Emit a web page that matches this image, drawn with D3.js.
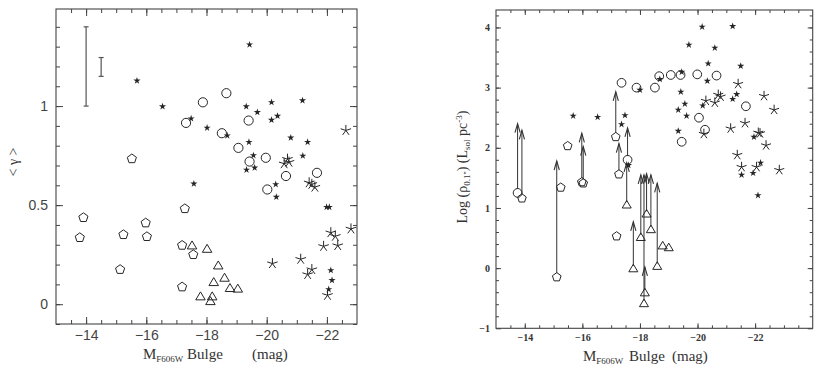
<!DOCTYPE html>
<html>
<head>
<meta charset="utf-8">
<script src="https://d3js.org/d3.v7.min.js"></script>
<style>
  body { margin: 0; background: #ffffff; }
  svg { display: block; }
  .ttl { font-family: "Liberation Serif", serif; fill: #333; }
  .lt text { font-family: "Liberation Sans", sans-serif; font-size: 14px; fill: #444; }
  .rt text { font-family: "Liberation Serif", serif; font-size: 10px; font-weight: bold; fill: #333; }
  .tick line { stroke: #444; }
</style>
</head>
<body>
<div id="chart"></div>
<script>
// ---- left panel: <gamma> vs bulge magnitude ----
const leftCircles = [[-17.32,0.915],[-17.88,1.019],[-18.66,1.065],[-19.4,0.927],[-18.51,0.863],[-19.06,0.789],
  [-19.97,0.739],[-19.43,0.72],[-20.64,0.647],[-21.67,0.663],[-20.02,0.579]];
const leftPentagons = [[-13.91,0.437],[-13.79,0.336],[-15.24,0.351],[-15.13,0.175],[-15.98,0.41],[-16.02,0.341],
  [-15.52,0.734],[-17.28,0.482],[-17.19,0.297],[-17.56,0.25],[-17.19,0.087]];
const leftTriangles = [[-17.52,0.289],[-18.02,0.272],[-18.39,0.188],[-18.6,0.126],[-18.24,0.104],[-18.78,0.074],
  [-19.04,0.071],[-17.8,0.032],[-18.19,0.032],[-18.13,0.008]];
const leftStarsSmall = [[-15.69,1.128],[-16.54,0.998],[-17.49,0.937],[-19.43,1.31],[-18.02,0.89],[-19.32,0.998],
  [-19.69,0.969],[-20.16,1.019],[-21.19,1.028],[-20.16,0.93],[-20.36,0.95],[-18.69,0.851],[-19.41,0.818],
  [-20.8,0.84],[-21.36,0.818],[-21.2,0.749],[-19.56,0.751],[-19.33,0.678],[-19.6,0.689],[-17.58,0.608],
  [-20.3,0.605],[-20.32,0.541],[-21.99,0.49],[-22.08,0.49],[-22.13,0.171],[-22.17,0.121],[-22.06,0.075]];
const leftStarsLarge = [[-22.63,0.877],[-20.69,0.732],[-20.58,0.709],[-20.74,0.717],[-21.41,0.613],[-21.5,0.605],
  [-21.6,0.591],[-22.13,0.361],[-22.28,0.343],[-22.8,0.38],[-21.89,0.292],[-22.36,0.296],[-20.19,0.205],
  [-21.13,0.227],[-21.5,0.175],[-21.36,0.15],[-22.02,0.045]];
const leftErrorBars = [[-14, 1.0, 1.4], [-14.5, 1.15, 1.245]];

// ---- right panel: log central density vs bulge magnitude ----
const rightCircles = [[-13.75,1.25],[-17.36,3.08],[-17.88,3.0],[-18.52,3.0],[-18.67,3.19],[-19.07,3.21],[-19.41,3.21],
  [-19.99,3.22],[-20.66,3.2],[-21.68,2.69],[-20.05,2.5],[-20.26,2.3],[-19.45,2.1],[-17.57,1.8]];
const rightPentagons = [[-13.9,1.16],[-15.11,-0.15],[-15.25,1.34],[-15.49,2.03],[-15.98,1.43],[-16.03,1.41],
  [-17.19,0.53],[-17.27,1.56],[-17.16,2.18]];
const rightTriangles = [[-17.54,1.03],[-17.77,-0.03],[-18.03,0.49],[-18.23,0.88],[-18.38,0.62],[-18.6,0.01],
  [-18.14,-0.61],[-18.17,-0.43],[-18.79,0.35],[-19.0,0.32]];
const rightStarsSmall = [[-15.68,2.53],[-16.53,2.51],[-17.48,2.54],[-17.36,2.39],[-17.6,1.71],[-18.0,2.96],
  [-20.16,4.01],[-21.22,4.02],[-19.7,3.71],[-20.6,3.66],[-20.37,3.4],[-21.5,3.36],[-19.45,3.26],[-18.69,3.14],
  [-20.34,3.11],[-19.42,2.93],[-19.56,2.73],[-19.33,2.63],[-19.62,2.53],[-20.18,2.7],[-21.22,2.81],[-21.36,2.89],
  [-19.33,2.28],[-21.96,2.18],[-21.53,1.55],[-21.93,1.58],[-22.19,1.75],[-22.1,1.21]];
const rightStarsLarge = [[-21.41,3.06],[-20.29,2.78],[-20.6,2.75],[-20.72,2.88],[-20.8,2.85],[-22.31,2.86],
  [-22.66,2.63],[-21.65,2.41],[-21.15,2.32],[-20.22,2.23],[-22.11,2.25],[-22.17,2.24],[-22.38,2.04],
  [-21.38,1.88],[-21.53,1.68],[-22.05,1.68],[-22.84,1.63]];
// lower limits: [mag, from, to]
const rightArrows = [[-13.75,1.25,2.4],[-13.9,1.16,2.29],[-15.11,-0.15,1.78],[-15.98,1.43,2.24],[-16.03,1.41,2.02],
  [-17.16,2.18,2.93],[-17.27,1.56,2.07],[-17.57,1.8,2.33],[-17.54,1.03,1.75],[-17.77,-0.03,0.77],
  [-18.03,0.49,1.55],[-18.14,-0.61,1.55],[-18.17,-0.43,0.02],[-18.23,0.88,1.57],[-18.38,0.62,1.55],[-18.6,0.01,1.41]];

const leftTicksX = [-14, -16, -18, -20, -22];
const leftTicksY = [0, 0.5, 1];
const rightTicksX = [-14, -16, -18, -20, -22];
const rightTicksY = [-1, 0, 1, 2, 3, 4];

const svg = d3.select("#chart").append("svg")
  .attr("width", 823)
  .attr("height", 367);

const ink = "#262626";

// symbol helpers
const pentagon = (r) => {
  let p = [];
  for (let i = 0; i < 5; i++) {
    const a = -Math.PI / 2 + i * 2 * Math.PI / 5;
    p.push([r * Math.cos(a), r * Math.sin(a)]);
  }
  return "M" + p.map(q => q.join(",")).join("L") + "Z";
};
const triangle = (r) => {
  return `M0,${-r}L${r * 0.95},${r * 0.6}L${-r * 0.95},${r * 0.6}Z`;
};
const asterisk = (r) => {
  let s = "";
  for (let i = 0; i < 5; i++) {
    const a = -Math.PI / 2 + i * 2 * Math.PI / 5;
    s += `M0,0L${r * Math.cos(a)},${r * Math.sin(a)}`;
  }
  return s;
};
const smallStar = d3.symbol().type(d3.symbolStar).size(16)();

function drawPanel(g, x, y, sets, sizeScale) {
  const k = sizeScale;
  g.selectAll(null).data(sets.circles).join("circle")
    .attr("cx", d => x(d[0])).attr("cy", d => y(d[1])).attr("r", 4.6 * k)
    .attr("fill", "none").attr("stroke", ink).attr("stroke-width", 1);
  g.selectAll(null).data(sets.pentagons).join("path")
    .attr("d", pentagon(4.8 * k))
    .attr("transform", d => `translate(${x(d[0])},${y(d[1])})`)
    .attr("fill", "none").attr("stroke", ink).attr("stroke-width", 1);
  g.selectAll(null).data(sets.triangles).join("path")
    .attr("d", triangle(5 * k))
    .attr("transform", d => `translate(${x(d[0])},${y(d[1]) - 1})`)
    .attr("fill", "none").attr("stroke", ink).attr("stroke-width", 1);
  g.selectAll(null).data(sets.starsSmall).join("path")
    .attr("d", smallStar)
    .attr("transform", d => `translate(${x(d[0])},${y(d[1])})`)
    .attr("fill", ink);
  g.selectAll(null).data(sets.starsLarge).join("path")
    .attr("d", asterisk(5.5 * k))
    .attr("transform", d => `translate(${x(d[0])},${y(d[1])})`)
    .attr("fill", "none").attr("stroke", ink).attr("stroke-width", 1);
}

function frame(g, x, y, majX, minX, majY, minY, majLen, minLen, cls, padX, padY, fmtY) {
  const [x0, x1] = x.range();
  const [y0, y1] = y.range();
  // minor ticks all four sides
  g.append("g").attr("transform", `translate(0,${y0})`)
    .call(d3.axisBottom(x).tickValues(minX).tickSize(-minLen).tickFormat("").tickSizeOuter(0))
    .call(a => a.select(".domain").remove());
  g.append("g").attr("transform", `translate(0,${y1})`)
    .call(d3.axisTop(x).tickValues(minX).tickSize(-minLen).tickFormat("").tickSizeOuter(0))
    .call(a => a.select(".domain").remove());
  g.append("g").attr("transform", `translate(${x0},0)`)
    .call(d3.axisLeft(y).tickValues(minY).tickSize(-minLen).tickFormat("").tickSizeOuter(0))
    .call(a => a.select(".domain").remove());
  g.append("g").attr("transform", `translate(${x1},0)`)
    .call(d3.axisRight(y).tickValues(minY).tickSize(-minLen).tickFormat("").tickSizeOuter(0))
    .call(a => a.select(".domain").remove());
  // major ticks with labels
  g.append("g").attr("class", cls).attr("transform", `translate(0,${y0})`)
    .call(d3.axisBottom(x).tickValues(majX).tickSize(-majLen).tickPadding(padX).tickFormat(d3.format("d")).tickSizeOuter(0))
    .call(a => a.select(".domain").remove());
  g.append("g").attr("transform", `translate(0,${y1})`)
    .call(d3.axisTop(x).tickValues(majX).tickSize(-majLen).tickFormat("").tickSizeOuter(0))
    .call(a => a.select(".domain").remove());
  g.append("g").attr("class", cls).attr("transform", `translate(${x0},0)`)
    .call(d3.axisLeft(y).tickValues(majY).tickSize(-majLen).tickPadding(padY).tickFormat(fmtY).tickSizeOuter(0))
    .call(a => a.select(".domain").remove());
  g.append("g").attr("transform", `translate(${x1},0)`)
    .call(d3.axisRight(y).tickValues(majY).tickSize(-majLen).tickFormat("").tickSizeOuter(0))
    .call(a => a.select(".domain").remove());
  g.append("rect")
    .attr("x", x0).attr("y", y1).attr("width", x1 - x0).attr("height", y0 - y1)
    .attr("fill", "none").attr("stroke", "#444").attr("stroke-width", 1.1);
}

// ===== left panel =====
const xL = d3.scaleLinear().domain([-13, -23]).range([56, 357]);
const yL = d3.scaleLinear().domain([-0.1, 1.49]).range([324, 9]);
const gL = svg.append("g");

frame(gL, xL, yL, leftTicksX, d3.range(-13.5, -23, -0.5), leftTicksY, d3.range(-0.1, 1.45, 0.1).map(v => +v.toFixed(1)),
  7, 4, "lt", 6, 8, d3.format("~g"));

// error bars
leftErrorBars.forEach(e => {
  gL.append("line").attr("x1", xL(e[0])).attr("x2", xL(e[0])).attr("y1", yL(e[1])).attr("y2", yL(e[2]))
    .attr("stroke", "#555").attr("stroke-width", 1.2);
  [e[1], e[2]].forEach(v => {
    gL.append("line").attr("x1", xL(e[0]) - 2.5).attr("x2", xL(e[0]) + 2.5).attr("y1", yL(v)).attr("y2", yL(v))
      .attr("stroke", "#555").attr("stroke-width", 1.2);
  });
});

drawPanel(gL, xL, yL, {circles: leftCircles, pentagons: leftPentagons, triangles: leftTriangles,
  starsSmall: leftStarsSmall, starsLarge: leftStarsLarge}, 1);

// axis titles
gL.append("text").attr("class", "ttl")
  .attr("transform", "translate(18,162) rotate(-90)")
  .attr("text-anchor", "middle").style("font-size", "14px")
  .text("< γ >");
const tL = gL.append("text").attr("class", "ttl").attr("y", 359).style("font-size", "15px");
tL.append("tspan").attr("x", 143).text("M");
tL.append("tspan").attr("dy", 3).style("font-size", "9px").text("F606W");
tL.append("tspan").attr("x", 187).attr("dy", -3).text("Bulge");
tL.append("tspan").attr("x", 252).text("(mag)");

// ===== right panel =====
const xR = d3.scaleLinear().domain([-13, -24]).range([496, 812.7]);
const yR = d3.scaleLinear().domain([-1, 4.29]).range([328.3, 10]);
const gR = svg.append("g");

frame(gR, xR, yR, rightTicksX, d3.range(-13.5, -24, -0.5), rightTicksY, d3.range(-0.8, 4.25, 0.2).map(v => +v.toFixed(1)),
  5, 3, "rt", 6, 6, d3.format("d"));

// lower-limit arrows
rightArrows.forEach(a => {
  const ax = xR(a[0]), ya = yR(a[1]), yb = yR(a[2]);
  gR.append("line").attr("x1", ax).attr("x2", ax).attr("y1", ya - 4).attr("y2", yb)
    .attr("stroke", "#333").attr("stroke-width", 1);
  gR.append("path")
    .attr("d", `M${ax - 2.6},${yb + 9}L${ax},${yb}L${ax + 2.6},${yb + 9}`)
    .attr("fill", "none").attr("stroke", "#333").attr("stroke-width", 1.1);
});

drawPanel(gR, xR, yR, {circles: rightCircles, pentagons: rightPentagons, triangles: rightTriangles,
  starsSmall: rightStarsSmall, starsLarge: rightStarsLarge}, 0.95);

const yt = gR.append("text").attr("class", "ttl")
  .attr("transform", "translate(467,167) rotate(-90)")
  .attr("text-anchor", "middle").style("font-size", "14px");
yt.append("tspan").text("Log (ρ");
yt.append("tspan").attr("dy", 3).style("font-size", "9px").text("0.1''");
yt.append("tspan").attr("dy", -3).text(") (L");
yt.append("tspan").attr("dy", 3).style("font-size", "9px").text("sol");
yt.append("tspan").attr("dy", -3).text(" pc");
yt.append("tspan").attr("dy", -5).style("font-size", "9px").text("-3");
yt.append("tspan").attr("dy", 5).text(")");

const tR = gR.append("text").attr("class", "ttl").attr("y", 361).style("font-size", "15px");
tR.append("tspan").attr("x", 583).text("M");
tR.append("tspan").attr("dy", 3).style("font-size", "9px").text("F606W");
tR.append("tspan").attr("x", 629).attr("dy", -3).text("Bulge");
tR.append("tspan").attr("x", 672).text("(mag)");
</script>
</body>
</html>
